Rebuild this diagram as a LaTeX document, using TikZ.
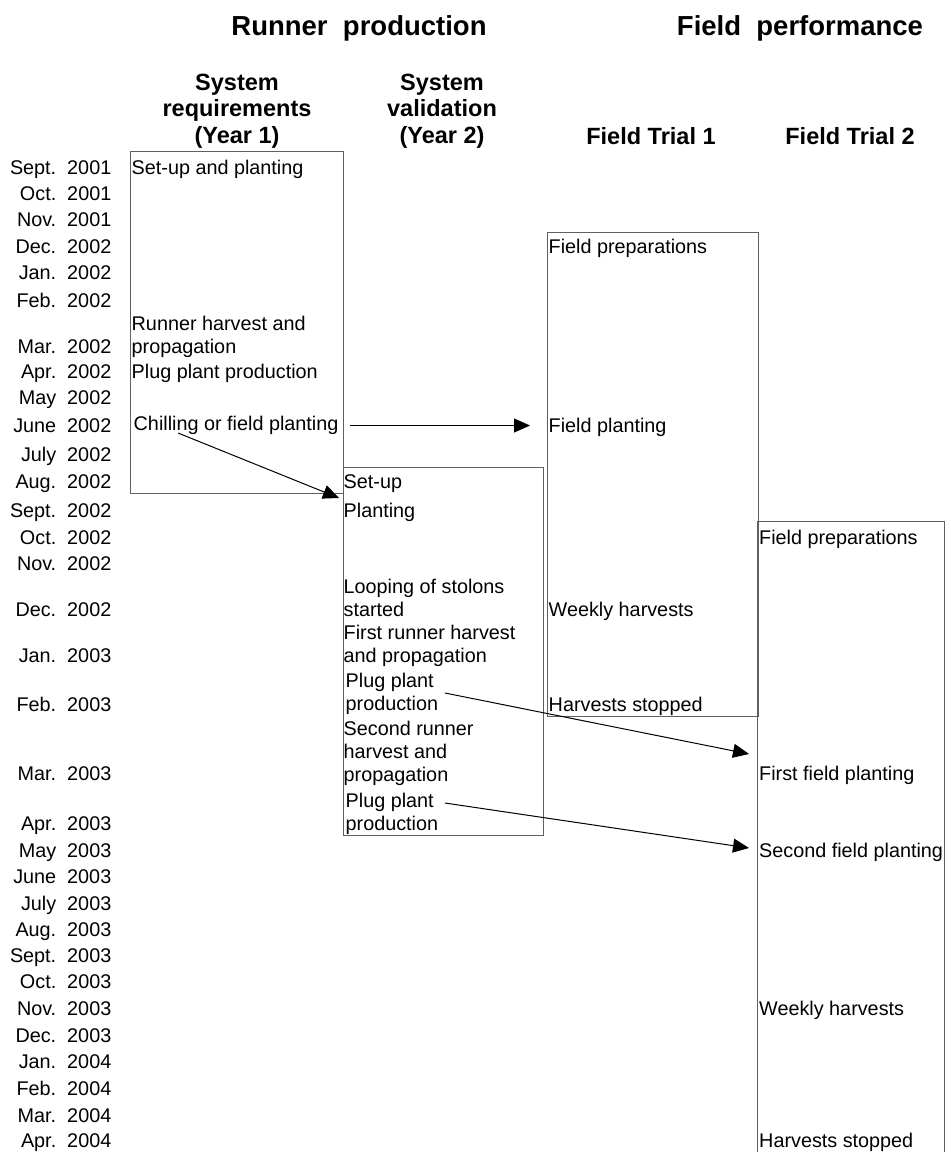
\documentclass[tikz,border=0pt]{standalone}
\usepackage{fontspec}
\setmainfont{Liberation Sans}
\usetikzlibrary{arrows.meta}
\definecolor{boxgray}{RGB}{95,95,95}
\begin{document}
\begin{tikzpicture}[x=1pt,y=-1pt,
  body/.style={font=\fontsize{19.8}{23}\selectfont, inner sep=0pt, align=left, anchor=base west},
  month/.style={font=\fontsize{19.8}{23}\selectfont, inner sep=0pt, anchor=base east},
  colhead/.style={font=\fontsize{23.5}{26.5}\selectfont\bfseries, inner sep=0pt, align=center, anchor=base},
  mainhead/.style={font=\fontsize{27.5}{30}\selectfont\bfseries, inner sep=0pt, anchor=base},
  period/.style={draw=boxgray, line width=1.2pt, inner sep=0pt, anchor=north west},
  link/.style={-{Triangle[length=16pt,width=14pt]}, line width=1pt, black}
]
\useasboundingbox (0,0) rectangle (951,1152);

% main headings
\node[mainhead] (hrun) at (359,35) {Runner\ \ production};
\node[mainhead] (hfield) at (800,35) {Field\ \ performance};

% column headings (base = last line)
\node[colhead] (hreq) at (237,143) {System\\requirements\\(Year 1)};
\node[colhead] (hval) at (442,143) {System\\validation\\(Year 2)};
\node[colhead] (hft1) at (651,144) {Field Trial 1};
\node[colhead] (hft2) at (850,144) {Field Trial 2};

% month labels
\foreach \yy/\txt [count=\i] in {
  174/Sept.\ \ 2001, 200/Oct.\ \ 2001, 226/Nov.\ \ 2001, 253/Dec.\ \ 2002,
  279/Jan.\ \ 2002, 307/Feb.\ \ 2002, 353/Mar.\ \ 2002, 378/Apr.\ \ 2002,
  404/May\ \ 2002, 432/June\ \ 2002, 461/July\ \ 2002, 488/Aug.\ \ 2002,
  517/Sept.\ \ 2002, 544/Oct.\ \ 2002, 570/Nov.\ \ 2002, 616/Dec.\ \ 2002,
  662/Jan.\ \ 2003, 711/Feb.\ \ 2003, 780/Mar.\ \ 2003, 830/Apr.\ \ 2003,
  857/May\ \ 2003, 883/June\ \ 2003, 910/July\ \ 2003, 936/Aug.\ \ 2003,
  962/Sept.\ \ 2003, 988/Oct.\ \ 2003, 1015/Nov.\ \ 2003, 1042/Dec.\ \ 2003,
  1068/Jan.\ \ 2004, 1095/Feb.\ \ 2004, 1122/Mar.\ \ 2004, 1147/Apr.\ \ 2004}
  \node[month] (m\i) at (111.5,\yy) {\txt};

% period boxes
\node[period, minimum width=213pt, minimum height=342pt] (box1) at (130,151) {};
\node[period, minimum width=200pt, minimum height=368pt] (box2) at (342.5,466.5) {};
\node[period, minimum width=211.5pt, minimum height=484pt] (box3) at (546.5,231.5) {};
\coordinate (box4bl) at (757.5,1160);
\coordinate (box4br) at (944.5,1160);
\draw[draw=boxgray, line width=1.2pt] (box4bl) |- (944.5,521.5) -- (box4br);

% Year 1
\node[body] (y1a) at (131.5,174) {Set-up and planting};
\node[body] (y1b) at (131.5,353) {Runner harvest and\\propagation};
\node[body] (y1c) at (131.5,378) {Plug plant production};
\node[body] (y1d) at (133.5,430) {Chilling or field planting};

% Year 2
\node[body] (y2a) at (343.5,488) {Set-up};
\node[body] (y2b) at (343.5,517) {Planting};
\node[body] (y2c) at (343.5,616) {Looping of stolons\\started};
\node[body] (y2d) at (343.5,662) {First runner harvest\\and propagation};
\node[body] (y2e) at (345.5,710) {Plug plant\\production};
\node[body] (y2f) at (343.5,781) {Second runner\\harvest and\\propagation};
\node[body] (y2g) at (345.5,830) {Plug plant\\production};

% Field trial 1
\node[body] (f1a) at (548.5,253) {Field preparations};
\node[body] (f1b) at (548.5,432) {Field planting};
\node[body] (f1c) at (548.5,616) {Weekly harvests};
\node[body] (f1d) at (548.5,711) {Harvests stopped};

% Field trial 2
\node[body] (f2a) at (759,544) {Field preparations};
\node[body] (f2b) at (759,780) {First field planting};
\node[body] (f2c) at (759,857) {Second field planting};
\node[body] (f2d) at (759,1015) {Weekly harvests};
\node[body] (f2e) at (759,1147) {Harvests stopped};

% connectors
\coordinate (a1s) at (350,425.5);
\coordinate (a1e) at (530,425.5);
\coordinate (a2s) at (178,433);
\coordinate (a2e) at (339,498);
\coordinate (a3s) at (445,693);
\coordinate (a3e) at (749,754);
\coordinate (a4s) at (445,803);
\coordinate (a4e) at (749,848);
\draw[link] (a1s) -- (a1e);
\draw[link] (a2s) -- (a2e);
\draw[link] (a3s) -- (a3e);
\draw[link] (a4s) -- (a4e);
\end{tikzpicture}
\end{document}
